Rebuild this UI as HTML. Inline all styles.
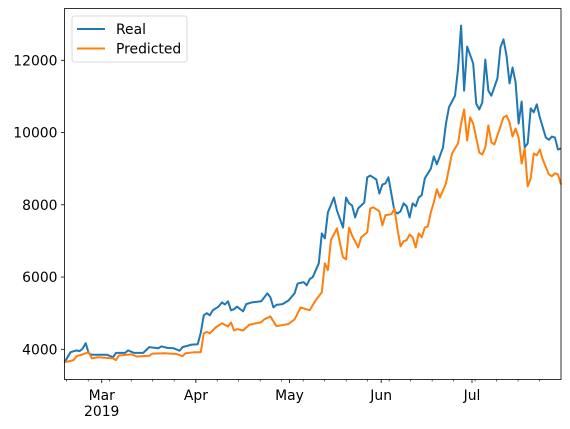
<!DOCTYPE html>
<html><head><meta charset="utf-8"><style>
html,body{margin:0;padding:0;background:#fff;}
svg{display:block;font-family:"DejaVu Sans","Liberation Sans",sans-serif;}
</style></head><body>
<svg id="chart" width="570" height="429" viewBox="0 0 570 429">
<rect width="570" height="429" fill="#fff"/>
<g id="plot"></g>
</svg>
<script>
const realDays=[0,2,4,5,6,7,8,9,14,16,17,20,21,23,26,28,31,32,34,36,38,39,42,44,45,46,47,48,49,51,52,53,54,55,56,57,59,60,62,65,67,68,69,70,72,74,76,77,79,80,81,82,84,85,86,87,89,90,92,93,94,95,96,97,99,100,101,103,104,105,106,107,109,110,111,112,113,114,115,116,117,118,119,121,122,123,125,126,127,129,130,131,132,133,135,136,137,138,139,140,141,143,144,145,146,147,148,149,150,151,152,153,154,155,156,157,159,160,161,162,163,164];
const realVals=[3640,3920,3970,3950,4020,4170,3890,3850,3850,3780,3900,3900,3970,3900,3900,4060,4030,4080,4040,4030,3960,4060,4130,4140,4450,4940,5000,4940,5080,5190,5300,5240,5330,5080,5110,5180,5050,5250,5300,5330,5550,5440,5160,5230,5250,5350,5550,5820,5860,5770,5940,6000,6380,7210,7070,7790,8200,7840,7370,8200,8040,7980,7650,7900,8060,8760,8810,8700,8310,8560,8590,8760,7820,7760,7820,8040,7960,7650,8040,7960,8200,8270,8730,9000,9340,9120,9580,10250,10700,11020,11770,12960,11160,12380,11910,10800,10640,10830,12020,11160,11020,11500,12360,12580,12130,11360,11800,11390,10250,10860,9590,9700,10670,10560,10780,10420,9860,9800,9890,9860,9530,9560];
const predDays=[0,3,4,6,8,9,11,16,17,18,22,24,28,29,33,37,39,40,43,45,46,47,48,50,52,54,55,56,57,59,61,65,66,68,70,74,76,78,81,83,85,86,87,88,90,91,92,93,94,95,97,98,100,101,102,104,105,106,108,109,110,111,112,113,114,115,116,117,118,119,120,121,122,123,124,126,128,130,131,132,133,134,135,137,138,139,140,141,142,143,145,146,147,148,149,150,151,152,153,154,155,156,157,158,160,161,162,163,164];
const predVals=[3640,3700,3810,3860,3920,3750,3780,3750,3700,3830,3860,3800,3820,3880,3890,3870,3810,3890,3920,3920,4440,4480,4440,4610,4720,4630,4740,4520,4560,4520,4680,4750,4830,4910,4640,4700,4830,5160,5080,5360,5580,6380,6190,7020,7350,6930,6550,6490,7370,7150,6820,7100,7240,7900,7930,7820,7430,7710,7740,7900,7320,6850,6990,7020,7180,7100,6820,7210,7100,7370,7400,7790,8070,8430,8200,8590,9420,9700,10250,10640,9780,10420,10250,9450,9390,9590,10200,9730,9670,9920,10420,10470,10280,9890,10110,9860,9140,9560,8510,8730,9420,9370,9530,9250,8840,8790,8870,8840,8560];
const yTicks=[4000,6000,8000,10000,12000];
const monthLabels=["Mar","Apr","May","Jun","Jul"];
const monthDays=[12.3,43.4,74.3,104.6,134.6];

const L=64.5,R=561,T=8.5,B=379.5,D0=0,D1=164;
const x=d=>L+(d-D0)/(D1-D0)*(R-L);
const y=v=>349.3-(v-4000)*0.036125;
const NS="http://www.w3.org/2000/svg";
const g=document.getElementById('plot');
function mk(t,a,p){const e=document.createElementNS(NS,t);for(const k in a)e.setAttribute(k,a[k]);(p||g).appendChild(e);return e;}

yTicks.forEach(v=>{
  const t=mk('line',{x1:L-3.5,x2:L,y1:y(v),y2:y(v),stroke:'#000','stroke-width':0.8});
  
  
  const tx=mk('text',{x:L-7,y:y(v)+5,'text-anchor':'end','font-size':13.9});
  tx.textContent=v;
  
  
});
for(let m=0.73;m<=D1;m+=7.1){
  const t=mk('line',{x1:x(m),x2:x(m),y1:B,y2:B+2,stroke:'#000','stroke-width':0.6});
  
  
}
monthLabels.forEach((lab,i)=>{
  const px=x(monthDays[i]);
  const t=mk('line',{x1:px,x2:px,y1:B,y2:B+3.5,stroke:'#000','stroke-width':0.8});
  
  
  const tx=mk('text',{x:px,y:B+20.5,'text-anchor':'middle','font-size':13.9});
  tx.textContent=lab;
  
  
});
const yr=mk('text',{x:x(monthDays[0]),y:B+36.5,'text-anchor':'middle','font-size':13.9});
yr.textContent='2019';



function line(ds,vs,color,name){
  const p=mk('polyline',{points:ds.map((d,i)=>x(d).toFixed(2)+','+y(vs[i]).toFixed(2)).join(' '),fill:'none',stroke:color,'stroke-width':2,'stroke-linejoin':'round'});
  
  
}
line(realDays,realVals,'#1f77b4','real-series-line');
line(predDays,predVals,'#ff7f0e','predicted-series-line');

const fr=mk('rect',{x:L,y:T,width:R-L,height:B-T,fill:'none',stroke:'#000','stroke-width':0.8});



const lg=mk('g',{});


mk('rect',{x:72,y:16,width:115,height:46,rx:2.5,fill:'#fff','fill-opacity':0.8,stroke:'#d0d0d0','stroke-width':0.8},lg);
[['Real','#1f77b4',29],['Predicted','#ff7f0e',48.5]].forEach(([n,c,yy])=>{
  const e=mk('g',{},lg);
  
  
  mk('line',{x1:77,x2:105,y1:yy,y2:yy,stroke:c,'stroke-width':2},e);
  const t=mk('text',{x:116,y:yy+5,'font-size':13.9},e);
  t.textContent=n;
});
</script>
</body></html>
